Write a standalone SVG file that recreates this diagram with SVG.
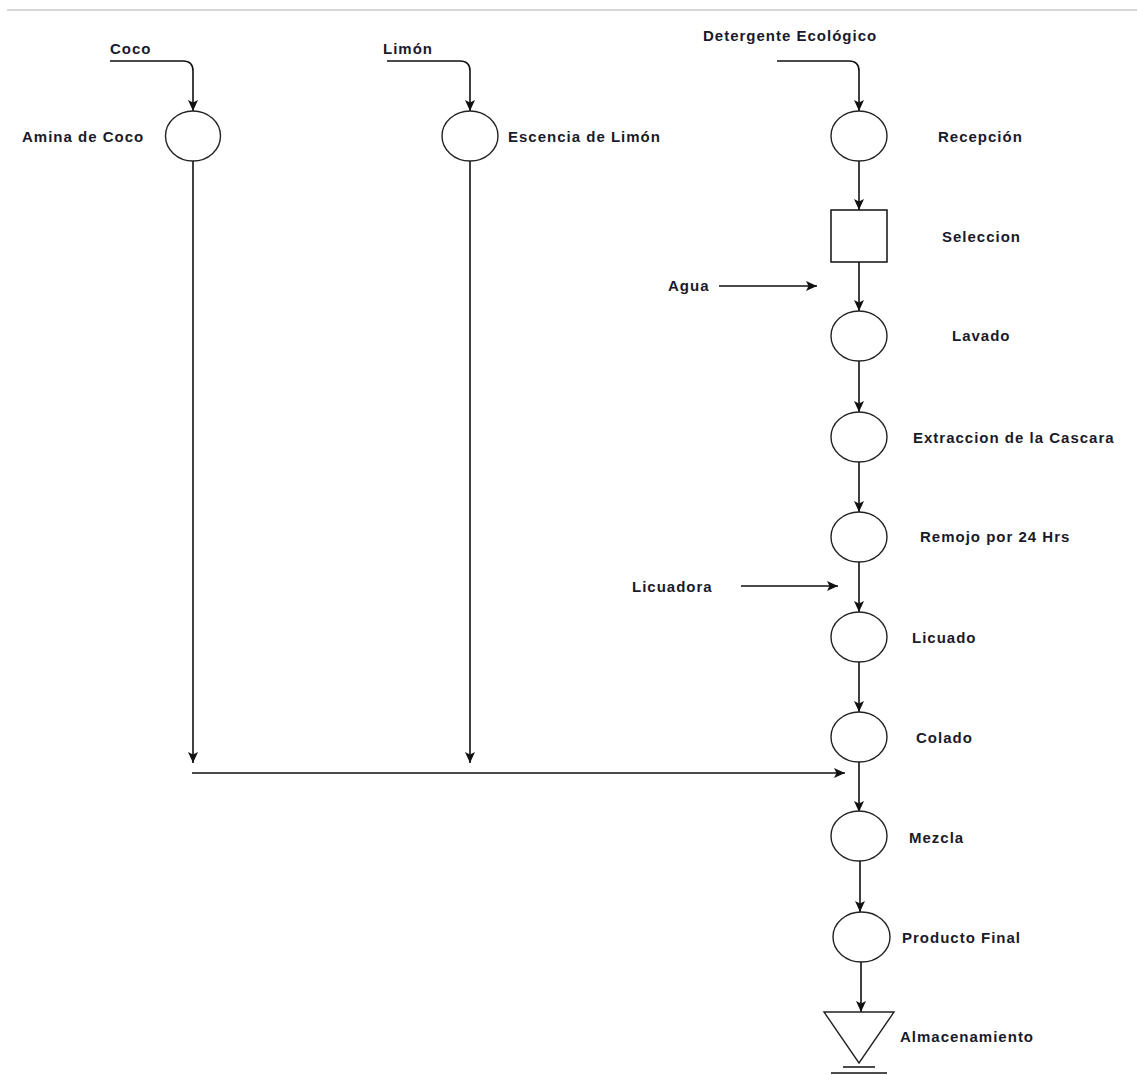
<svg xmlns="http://www.w3.org/2000/svg" width="1137" height="1075" viewBox="0 0 1137 1075">
<defs>
<marker id="arr" markerUnits="userSpaceOnUse" markerWidth="12" markerHeight="11" refX="11" refY="5" orient="auto">
<path d="M0,0 L11,5 L0,10 L2.5,5 z" fill="#111"/>
</marker>
<style>
.t{font-family:"Liberation Sans",Arial,sans-serif;font-weight:bold;font-size:15px;letter-spacing:1px;fill:#1a1a2a}
.op{fill:#fff;stroke:#222;stroke-width:1.4}
.c{fill:none;stroke:#111;stroke-width:1.6;marker-end:url(#arr)}
.ln{fill:none;stroke:#111;stroke-width:1.5}
</style>
</defs>
<rect width="1137" height="1075" fill="#fff"/>
<line x1="7" y1="10" x2="1137" y2="10" stroke="#c8c8c8" stroke-width="1.5"/>

<g id="connectors">
<path class="c" d="M110,61 H183 Q193,61 193,71 V111"/>
<path class="c" d="M387,61 H460 Q470,61 470,71 V111"/>
<path class="c" d="M777,61 H849 Q859,61 859,71 V111"/>
<path class="c" d="M859,161 V210"/>
<path class="c" d="M859,262 V311"/>
<path class="c" d="M719,286 H817"/>
<path class="c" d="M859,361 V412"/>
<path class="c" d="M859,462 V512"/>
<path class="c" d="M859,562 V612"/>
<path class="c" d="M741,586 H838"/>
<path class="c" d="M859,662 V712"/>
<path class="c" d="M859,762 V812"/>
<path class="c" d="M193,161 V763"/>
<path class="c" d="M470,161 V763"/>
<path class="c" d="M192,773 H845"/>
<path class="c" d="M860,861 V912"/>
<path class="c" d="M861,962 V1012"/>
</g>

<g id="coco"><text class="t" x="110" y="54">Coco</text></g>
<g id="limon"><text class="t" x="383" y="54">Limón</text></g>
<g id="detergente"><text class="t" x="703" y="41">Detergente Ecológico</text></g>

<g id="amina"><ellipse class="op" cx="193" cy="136" rx="27.5" ry="25"/><text class="t" x="22" y="142">Amina de Coco</text></g>
<g id="escencia"><ellipse class="op" cx="470" cy="136" rx="28" ry="25"/><text class="t" x="508" y="142">Escencia de Limón</text></g>
<g id="recepcion"><ellipse class="op" cx="859" cy="136" rx="28" ry="25"/><text class="t" x="938" y="142">Recepción</text></g>
<g id="seleccion"><rect x="831" y="210" width="56" height="52" fill="#fff" stroke="#111" stroke-width="1.5"/><text class="t" x="942" y="242">Seleccion</text></g>
<g id="agua"><text class="t" x="668" y="291">Agua</text></g>
<g id="lavado"><ellipse class="op" cx="859" cy="336" rx="28" ry="25"/><text class="t" x="952" y="341">Lavado</text></g>
<g id="extraccion"><ellipse class="op" cx="859" cy="437" rx="28" ry="25"/><text class="t" x="913" y="443">Extraccion de la Cascara</text></g>
<g id="remojo"><ellipse class="op" cx="859" cy="537" rx="28" ry="25"/><text class="t" x="920" y="542">Remojo por 24 Hrs</text></g>
<g id="licuadora"><text class="t" x="632" y="592">Licuadora</text></g>
<g id="licuado"><ellipse class="op" cx="859" cy="637" rx="28" ry="25"/><text class="t" x="912" y="643">Licuado</text></g>
<g id="colado"><ellipse class="op" cx="859" cy="737" rx="28" ry="25"/><text class="t" x="916" y="743">Colado</text></g>
<g id="mezcla"><ellipse class="op" cx="859" cy="836" rx="28" ry="25"/><text class="t" x="909" y="843">Mezcla</text></g>
<g id="producto"><ellipse class="op" cx="861.5" cy="937" rx="28.5" ry="25"/><text class="t" x="902" y="943">Producto Final</text></g>
<g id="almacenamiento">
<polygon points="824,1012 894,1012 859,1063" fill="#fff" stroke="#222" stroke-width="1.4"/>
<line class="ln" x1="843" y1="1067" x2="875" y2="1067"/>
<line class="ln" x1="831" y1="1073" x2="887" y2="1073"/>
<text class="t" x="900" y="1042">Almacenamiento</text>
</g>
</svg>
